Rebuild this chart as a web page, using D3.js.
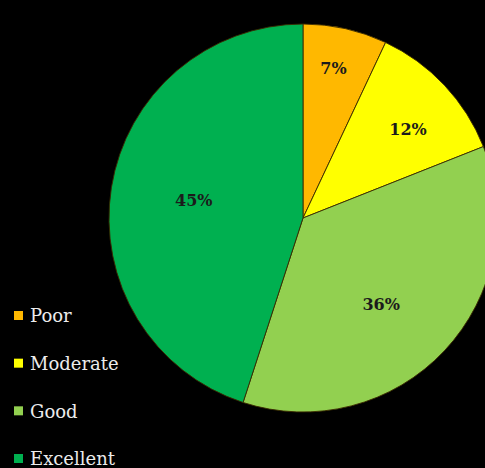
<!DOCTYPE html>
<html>
<head>
<meta charset="utf-8">
<script src="https://cdn.jsdelivr.net/npm/d3@7/dist/d3.min.js"></script>
<style>
  html, body { margin: 0; padding: 0; background: #000; overflow: hidden; }
  svg { display: block; }
</style>
</head>
<body>
<svg id="chart" width="485" height="468"></svg>
<script>
// Rating shares (percent)
const categories = ["Poor", "Moderate", "Good", "Excellent"];
const values = [7, 12, 36, 45];
const colors = ["#FFB800", "#FFFF00", "#92D050", "#00B050"];

// Label placement: distance from the centre (fraction of radius) and angular nudge (radians)
const labelRadiusFactor = [0.79, 0.71, 0.60, 0.57];
const labelAngleNudge = [-0.02, 0.05, 0.08, 0.0];

const width = 485, height = 468;
const cx = 303, cy = 218, radius = 194;

const svg = d3.select("#chart");
svg.append("rect").attr("width", width).attr("height", height).attr("fill", "#000");

const pie = d3.pie().sort(null).value(d => d)(values);
const arc = d3.arc().innerRadius(0).outerRadius(radius);

const g = svg.append("g").attr("transform", `translate(${cx},${cy})`);

g.selectAll("path.slice")
  .data(pie)
  .join("path")
  .attr("class", "slice")
  .attr("d", arc)
  .attr("fill", (d, i) => colors[i])
  .attr("stroke", "#3a2a00")
  .attr("stroke-width", 0.9);

g.selectAll("text.pct")
  .data(pie)
  .join("text")
  .attr("class", "pct")
  .attr("transform", (d, i) => {
    const r = radius * labelRadiusFactor[i];
    const a = (d.startAngle + d.endAngle) / 2 + labelAngleNudge[i];
    return `translate(${r * Math.sin(a)},${-r * Math.cos(a)})`;
  })
  .attr("text-anchor", "middle")
  .attr("dy", "0.36em")
  .attr("font-family", "'DejaVu Serif', serif")
  .attr("font-weight", "bold")
  .attr("font-size", 16)
  .attr("fill", "#1b1b1b")
  .text(d => d.data + "%");

// Legend
const legendY = d3.scalePoint().domain(categories).range([316, 459]);
const legend = svg.append("g");
const items = legend.selectAll("g.item")
  .data(categories)
  .join("g")
  .attr("class", "item")
  .attr("transform", d => `translate(14,${legendY(d)})`);

items.append("rect")
  .attr("x", 0).attr("y", -5)
  .attr("width", 9).attr("height", 9)
  .attr("fill", (d, i) => colors[i]);

items.append("text")
  .attr("x", 16)
  .attr("y", 0)
  .attr("dy", "0.35em")
  .attr("font-family", "'DejaVu Serif', serif")
  .attr("font-size", 18)
  .attr("fill", "#ececec")
  .text(d => d);
</script>
</body>
</html>
